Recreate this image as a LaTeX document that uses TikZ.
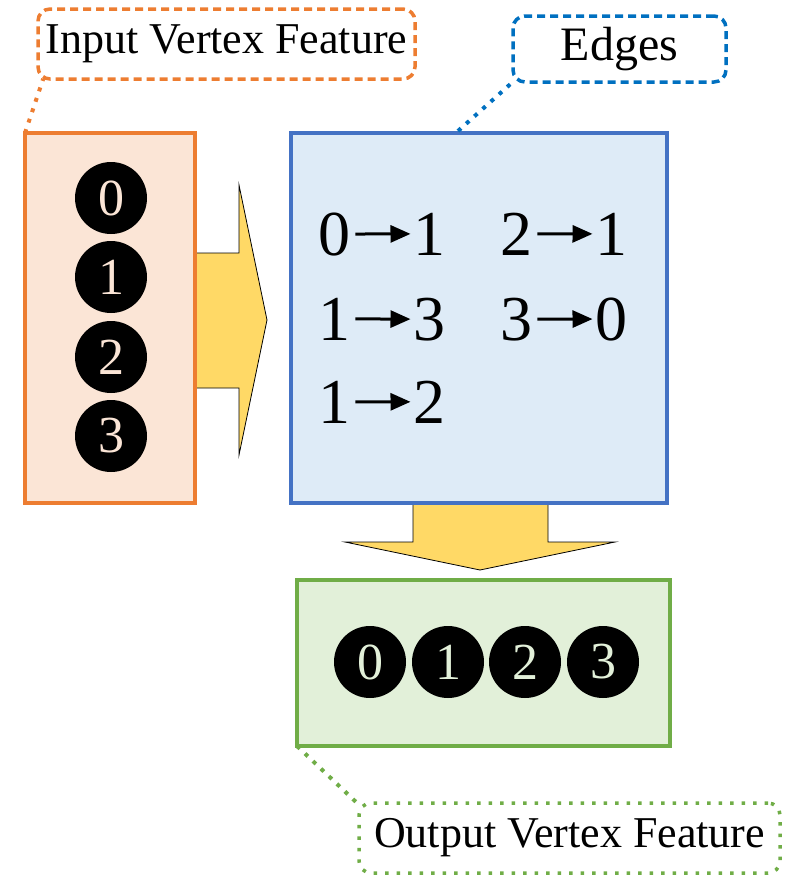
\documentclass[tikz,border=0pt]{standalone}
\usepackage{fontspec}
\setmainfont{Liberation Serif}
\usepackage{xcolor}
\usetikzlibrary{calc,positioning,arrows.meta}

\definecolor{inline}{HTML}{ED7D31}
\definecolor{infill}{HTML}{FBE5D6}
\definecolor{edgeline}{HTML}{4472C4}
\definecolor{edgefill}{HTML}{DEEBF7}
\definecolor{outline}{HTML}{70AD47}
\definecolor{outfill}{HTML}{E2F0D9}
\definecolor{callblue}{HTML}{0070C0}
\definecolor{flow}{HTML}{FFD966}

\begin{document}
\begin{tikzpicture}[x=1pt,y=-1pt]
  \tikzset{panel/.style={draw=#1,line width=4,rectangle,inner sep=0},
           callout/.style={draw=#1,line width=3.5,rounded corners=12,dash pattern=on 8pt off 5pt,inner sep=0},
           tie/.style={draw=#1,line width=4,dash pattern=on 4pt off 7pt},
           vert/.style={circle,fill=black,text=#1,minimum size=72,inner sep=0,font=\fontsize{52}{52}\selectfont},
           digit/.style={anchor=base west,inner sep=0,font=\fontsize{64}{64}\selectfont},
           edgearrow/.style={line width=3,-{Triangle[length=20pt,width=17pt]},shorten <=5pt,shorten >=3pt},
           flowarrow/.style={fill=flow,draw=black,line width=0.8}}
  \useasboundingbox (0,0) rectangle (795,876);
  % block arrows (under the panels)
  \path[flowarrow] (190,253) -- (239,253) -- (239,185) -- (267,320) -- (239,455) -- (239,388) -- (190,388) -- cycle;
  \path[flowarrow] (413,500) -- (413,542) -- (345,542) -- (480,570) -- (615,542) -- (548,542) -- (548,500) -- cycle;
  % panels
  \node [panel=inline,fill=infill,minimum width=170,minimum height=370] (input) at (110,318) {};
  \node [panel=edgeline,fill=edgefill,minimum width=376,minimum height=370] (edges) at (479,318) {};
  \node [panel=outline,fill=outfill,minimum width=373,minimum height=166] (output) at (483.5,663) {};
  % vertices
  \foreach \v/\y in {0/198,1/277,2/357,3/436}
    \node [vert=infill] (in\v) at (111,\y) {\v};
  \foreach \v/\x in {0/370,1/448,2/525,3/603}
    \node [vert=outfill] (out\v) at (\x,662) {\v};
  % edge list
  \foreach \s/\t/\x/\y in {0/1/318/255,2/1/500/255,1/3/318/340,3/0/500/340,1/2/318/423} {
    \node [digit] (src\s\t) at (\x,\y) {\s};
    \node [digit] (dst\s\t) at (\x+95.5,\y) {\t};
    \draw [edgearrow] (src\s\t.east) -- (dst\s\t.west);
  }
  % callouts
  \node [callout=inline,minimum width=377,minimum height=70,font=\fontsize{44}{44}\selectfont] (incall) at (226.5,44) {Input Vertex Feature};
  \node [callout=callblue,minimum width=213,minimum height=66,font=\fontsize{48}{48}\selectfont] (edgecall) at (619.5,49) {Edges};
  \node [callout=outline,dash pattern=on 3.5pt off 8pt,minimum width=421,minimum height=70,font=\fontsize{44}{44}\selectfont] (outcall) at (569.5,838) {Output Vertex Feature};
  \draw [tie=inline] ([xshift=2pt,yshift=-2pt]input.north west) -- ([xshift=7pt,yshift=2pt]incall.south west);
  \draw [tie=callblue] ([xshift=-21pt]edges.north) -- ([xshift=4pt,yshift=4pt]edgecall.south west);
  \draw [tie=outline] ([xshift=2pt,yshift=2pt]output.south west) -- ([xshift=-1pt,yshift=-1pt]outcall.north west);
\end{tikzpicture}
\end{document}
